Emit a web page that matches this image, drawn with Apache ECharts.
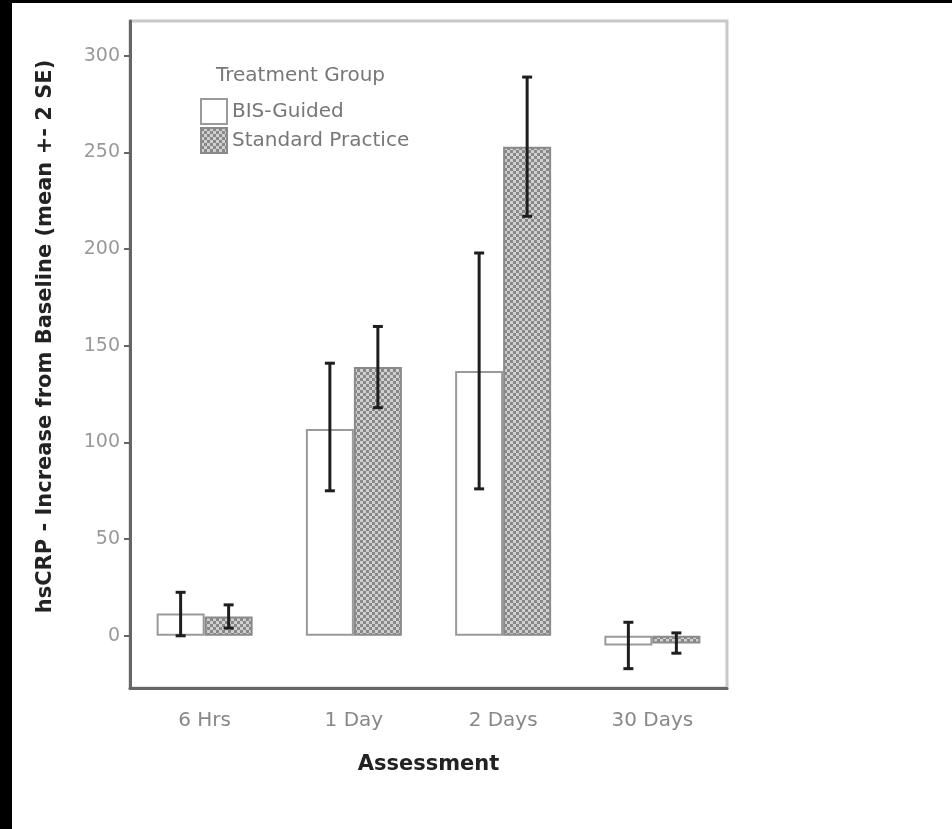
<!DOCTYPE html>
<html><head><meta charset="utf-8">
<script src="https://cdn.jsdelivr.net/npm/echarts@6/dist/echarts.min.js"></script>
<style>html,body{margin:0;padding:0;background:#fff}#c{width:952px;height:829px}</style>
</head><body><div id="c"></div>
<script>
const categories = ['6 Hrs', '1 Day', '2 Days', '30 Days'];
const bisMean = [11.5, 107, 137, -5];
const bisLow = [0, 75, 76, -17];
const bisHigh = [22.5, 141, 198, 7];
const stdMean = [10, 139, 253, -4];
const stdLow = [4, 118, 217, -9];
const stdHigh = [16, 160, 289, 1.5];
const yTicks = [0, 50, 100, 150, 200, 250, 300];

const pc = document.createElement('canvas');
pc.width = 6; pc.height = 6;
const g = pc.getContext('2d');
g.fillStyle = '#d0d0d0'; g.fillRect(0, 0, 6, 6);
g.fillStyle = '#888888'; g.fillRect(0, 0, 3, 3); g.fillRect(3, 3, 3, 3);
const pattern = { image: pc, repeat: 'repeat' };

const FONT = 'DejaVu Sans';
const BAR_W = 48;

function errSeries(low, high, offset) {
  return {
    type: 'custom',
    z: 10,
    silent: true,
    data: categories.map((c, i) => [i, low[i], high[i]]),
    renderItem: function (params, api) {
      const lo = api.coord([api.value(0), api.value(1)]);
      const hi = api.coord([api.value(0), api.value(2)]);
      const cx = lo[0] + offset;
      const st = { stroke: '#1e1e1e', lineWidth: 3 };
      return {
        type: 'group',
        children: [
          { type: 'line', shape: { x1: cx, y1: lo[1], x2: cx, y2: hi[1] }, style: st },
          { type: 'line', shape: { x1: cx - 5, y1: lo[1], x2: cx + 5, y2: lo[1] }, style: st },
          { type: 'line', shape: { x1: cx - 5, y1: hi[1], x2: cx + 5, y2: hi[1] }, style: st }
        ]
      };
    }
  };
}

const chart = echarts.init(document.getElementById('c'), null, { renderer: 'canvas' });
chart.setOption({
  animation: false,
  backgroundColor: '#ffffff',
  textStyle: { fontFamily: FONT },
  title: {
    text: 'Treatment Group', left: 211, top: 61,
    textStyle: { fontFamily: FONT, fontSize: 20, fontWeight: 'normal', color: '#777777' }
  },
  legend: {
    data: ['BIS-Guided', 'Standard Practice'],
    orient: 'vertical', left: 195, top: 93,
    itemWidth: 26, itemHeight: 25, itemGap: 2,
    icon: 'rect',
    selectedMode: false,
    textStyle: { fontFamily: FONT, fontSize: 20, color: '#777777' }
  },
  grid: {
    left: 130, right: 225, top: 21, bottom: 141,
    show: true, borderColor: '#c8c8c8', borderWidth: 3, backgroundColor: '#ffffff'
  },
  xAxis: {
    type: 'category',
    data: categories,
    name: 'Assessment',
    nameLocation: 'middle',
    nameGap: 66,
    nameTextStyle: { fontFamily: FONT, fontSize: 21, fontWeight: 'bold', color: '#222222' },
    axisLine: { onZero: false, lineStyle: { color: '#666666', width: 3 } },
    axisTick: { alignWithLabel: true, length: 10, lineStyle: { color: '#666666', width: 2 } },
    axisLabel: { margin: 23, fontFamily: FONT, fontSize: 20, color: '#888888' },
    splitLine: { show: false }
  },
  yAxis: {
    type: 'value',
    min: -27, max: 318,
    name: 'hsCRP - Increase from Baseline (mean +- 2 SE)',
    nameLocation: 'middle',
    nameGap: 74,
    nameTextStyle: { fontFamily: FONT, fontSize: 21, fontWeight: 'bold', color: '#222222', padding: [0, 0, 0, 36] },
    axisLine: { show: true, lineStyle: { color: '#666666', width: 3 } },
    axisTick: { show: true, length: 6, customValues: yTicks, lineStyle: { color: '#666666', width: 2 } },
    axisLabel: { customValues: yTicks, margin: 10, fontFamily: FONT, fontSize: 19, color: '#999999' },
    splitLine: { show: false }
  },
  series: [
    {
      name: 'BIS-Guided', type: 'bar', data: bisMean,
      barWidth: BAR_W, barGap: '0%',
      itemStyle: { color: '#ffffff', borderColor: '#9a9a9a', borderWidth: 2 }
    },
    {
      name: 'Standard Practice', type: 'bar', data: stdMean,
      barWidth: BAR_W, barGap: '0%',
      itemStyle: { color: pattern, borderColor: '#8a8a8a', borderWidth: 2 }
    },
    errSeries(bisLow, bisHigh, -BAR_W / 2),
    errSeries(stdLow, stdHigh, BAR_W / 2)
  ],
  graphic: [
    { type: 'rect', left: 0, top: 0, shape: { width: 12, height: 829 }, style: { fill: '#000000' }, z: 100 },
    { type: 'rect', left: 0, top: 0, shape: { width: 952, height: 3 }, style: { fill: '#000000' }, z: 100 }
  ]
});
</script>
</body></html>
